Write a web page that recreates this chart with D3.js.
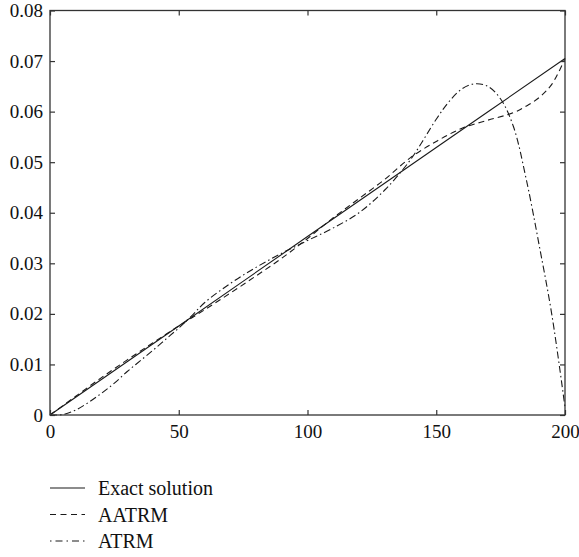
<!DOCTYPE html>
<html>
<head>
<meta charset="utf-8">
<script src="https://cdn.jsdelivr.net/npm/d3@7"></script>
<style>
  html, body { margin: 0; padding: 0; background: #fff; }
  svg text { font-family: "Liberation Serif", "DejaVu Serif", serif; fill: #111; }
</style>
</head>
<body>
<div id="chart"></div>
<script>
// values
var exactX = [0, 50, 100, 150, 200];
var exactY = [0, 0.0176, 0.0353, 0.0529, 0.0705];

var aatrmX = [0, 10, 20, 30, 40, 50, 60, 70, 80, 90, 100, 110, 120, 130, 140, 150, 160, 170, 180, 185, 190, 195, 200];
var aatrmY = [0, 0.0037, 0.0074, 0.0109, 0.0143, 0.0176, 0.0208, 0.0241, 0.0275, 0.0310, 0.0349, 0.0390, 0.0428, 0.0466, 0.0509, 0.0541, 0.0567, 0.0583, 0.0598, 0.0611, 0.0628, 0.0655, 0.0705];

var atrmX = [0, 5, 10, 15, 20, 25, 30, 35, 40, 45, 50, 55, 60, 70, 80, 90, 100, 110, 120, 130, 140, 150, 155, 160, 165, 170, 175, 180, 185, 190, 195, 200];
var atrmY = [0, 0.0001, 0.0010, 0.0025, 0.0043, 0.0063, 0.0086, 0.0107, 0.0128, 0.0150, 0.0172, 0.0196, 0.0222, 0.0260, 0.0292, 0.0320, 0.0345, 0.0370, 0.0400, 0.0445, 0.0505, 0.0585, 0.0620, 0.0645, 0.0655, 0.0650, 0.0625, 0.0570, 0.0465, 0.0335, 0.0195, 0.0015];

var xTicks = [0, 50, 100, 150, 200];
var yTicks = [0, 0.01, 0.02, 0.03, 0.04, 0.05, 0.06, 0.07, 0.08];

var legendNames = ["Exact solution", "AATRM", "ATRM"];
var dashes = [null, "6,4", "7,3,1.5,3"];

var width = 579, height = 557;
var plotLeft = 50, plotRight = 565, plotTop = 10.5, plotBottom = 415;

var svg = d3.select("#chart").append("svg")
    .attr("width", width)
    .attr("height", height);

var x = d3.scaleLinear().domain([0, 200]).range([plotLeft, plotRight]);
var y = d3.scaleLinear().domain([0, 0.08]).range([plotBottom, plotTop]);

var series = [
  exactX.map(function(d, i) { return [d, exactY[i]]; }),
  aatrmX.map(function(d, i) { return [d, aatrmY[i]]; }),
  atrmX.map(function(d, i) { return [d, atrmY[i]]; })
];

var line = d3.line()
    .x(function(d) { return x(d[0]); })
    .y(function(d) { return y(d[1]); })
    .curve(d3.curveCatmullRom.alpha(0.5));

svg.selectAll("path.series")
    .data(series)
  .enter().append("path")
    .attr("class", "series")
    .attr("d", line)
    .attr("fill", "none")
    .attr("stroke", "#1a1a1a")
    .attr("stroke-width", 1.1)
    .attr("stroke-dasharray", function(d, i) { return dashes[i]; });

// box with inward ticks on all sides
var tickLen = 5;
function styleAxis(g) {
  g.select(".domain").remove();
  g.selectAll(".tick line").attr("stroke", "#333").attr("stroke-width", 1.2);
  g.selectAll(".tick text").style("font-size", "19px");
}

svg.append("g")
    .attr("transform", "translate(0," + plotBottom + ")")
    .call(d3.axisBottom(x).tickValues(xTicks).tickSizeInner(-tickLen).tickSizeOuter(0).tickPadding(10).tickFormat(d3.format("d")))
    .call(styleAxis);

svg.append("g")
    .attr("transform", "translate(0," + plotTop + ")")
    .call(d3.axisTop(x).tickValues(xTicks).tickSizeInner(-tickLen).tickSizeOuter(0).tickFormat(""))
    .call(styleAxis);

svg.append("g")
    .attr("transform", "translate(" + plotLeft + ",0)")
    .call(d3.axisLeft(y).tickValues(yTicks).tickSizeInner(-tickLen).tickSizeOuter(0).tickPadding(7)
      .tickFormat(function(d) { return d === 0 ? "0" : d3.format(".2f")(d); }))
    .call(styleAxis);

svg.append("g")
    .attr("transform", "translate(" + plotRight + ",0)")
    .call(d3.axisRight(y).tickValues(yTicks).tickSizeInner(-tickLen).tickSizeOuter(0).tickFormat(""))
    .call(styleAxis);

svg.append("rect")
    .attr("x", plotLeft).attr("y", plotTop)
    .attr("width", plotRight - plotLeft).attr("height", plotBottom - plotTop)
    .attr("fill", "none")
    .attr("stroke", "#333")
    .attr("stroke-width", 1.3);

// legend under the plot
var legend = svg.append("g").attr("transform", "translate(50,488)");
var item = legend.selectAll("g")
    .data(legendNames)
  .enter().append("g")
    .attr("transform", function(d, i) { return "translate(0," + (i * 26.5) + ")"; });

item.append("line")
    .attr("x1", 0).attr("x2", 35)
    .attr("stroke", "#1a1a1a")
    .attr("stroke-width", 1.1)
    .attr("stroke-dasharray", function(d, i) { return dashes[i] ? "6,4.5" : null; })
    .filter(function(d, i) { return i === 2; })
    .attr("stroke-dasharray", "1.5,4,7,4");

item.append("text")
    .attr("x", 48)
    .attr("dy", "0.35em")
    .style("font-size", "20px")
    .text(function(d) { return d; });
</script>
</body>
</html>
